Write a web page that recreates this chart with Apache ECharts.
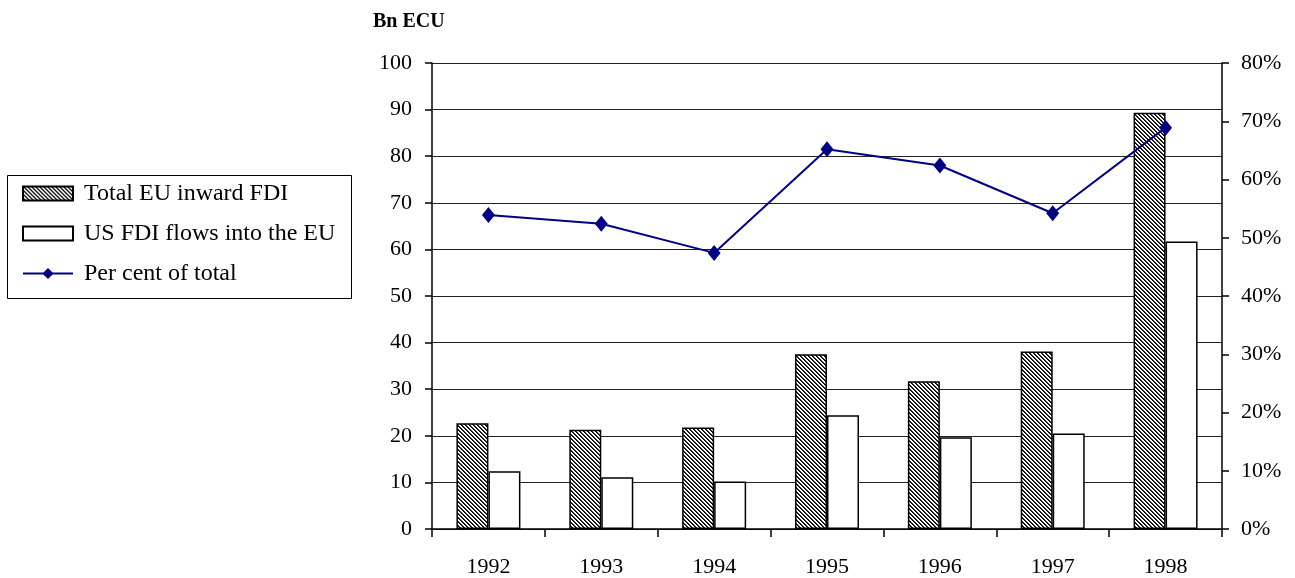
<!DOCTYPE html>
<html>
<head>
<meta charset="utf-8">
<script src="https://cdn.jsdelivr.net/npm/echarts@6/dist/echarts.min.js"></script>
<style>
html,body{margin:0;padding:0;background:#fff;}
#chart{width:1295px;height:578px;}
</style>
</head>
<body>
<div id="chart"></div>
<script>
const categories = ['1992','1993','1994','1995','1996','1997','1998'];
const totalEU = [22.7, 21.3, 21.8, 37.5, 31.7, 38.1, 89.3];
const usFDI = [12.4, 11.1, 10.2, 24.4, 19.7, 20.5, 61.7];
const perCent = [53.9, 52.4, 47.4, 65.2, 62.4, 54.2, 68.9];
const leftTicks = {min: 0, max: 100, interval: 10};
const rightTicks = {min: 0, max: 80, interval: 10};

const FONT = "'Liberation Serif','Times New Roman',serif";

function makeHatch() {
  const c = document.createElement('canvas');
  c.width = 4; c.height = 4;
  const ctx = c.getContext('2d');
  ctx.fillStyle = '#fff';
  ctx.fillRect(0, 0, 4, 4);
  for (let i = 0; i < 4; i++) {
    ctx.fillStyle = '#000';
    ctx.fillRect(i, i, 1, 1);
    ctx.fillStyle = 'rgba(0,0,0,0.8)';
    ctx.fillRect((i + 1) % 4, i, 1, 1);
  }
  return c;
}
const hatch = {image: makeHatch(), repeat: 'repeat'};

const chart = echarts.init(document.getElementById('chart'), null, {renderer: 'canvas'});
chart.setOption({
  animation: false,
  backgroundColor: '#fff',
  textStyle: {fontFamily: FONT, color: '#000'},
  grid: {left: 432, right: 73, top: 63, bottom: 49, containLabel: false},
  graphic: [
    {type: 'rect', left: 5, top: 173, shape: {width: 344, height: 123},
     style: {fill: 'none', stroke: '#000', lineWidth: 1}},
    {type: 'text', left: 373, top: 12,
     style: {text: 'Bn ECU', font: "bold 20px 'Liberation Serif', serif", fill: '#000'}}
  ],
  legend: {
    orient: 'vertical', left: 22, top: 181, padding: 0,
    itemWidth: 50, itemHeight: 14, itemGap: 15,
    textStyle: {fontFamily: FONT, fontSize: 24, color: '#000', lineHeight: 25, padding: [0,0,0,6]},
    data: [
      {name: 'Total EU inward FDI', icon: 'rect'},
      {name: 'US FDI flows into the EU', icon: 'rect'},
      {name: 'Per cent of total'}
    ]
  },
  xAxis: {
    type: 'category', data: categories,
    axisLine: {lineStyle: {color: '#000', width: 1.5}},
    axisTick: {show: true, length: 8, lineStyle: {color: '#000', width: 1.5}},
    axisLabel: {fontFamily: FONT, fontSize: 22, color: '#000', margin: 27}
  },
  yAxis: [
    {
      type: 'value', min: leftTicks.min, max: leftTicks.max, interval: leftTicks.interval,
      axisLine: {show: true, lineStyle: {color: '#000', width: 1.5}},
      axisTick: {show: true, length: 7, lineStyle: {color: '#000', width: 1.5}},
      axisLabel: {fontFamily: FONT, fontSize: 22, color: '#000', margin: 20},
      splitLine: {show: true, lineStyle: {color: '#222', width: 1}}
    },
    {
      type: 'value', min: rightTicks.min, max: rightTicks.max, interval: rightTicks.interval,
      position: 'right',
      axisLine: {show: true, lineStyle: {color: '#000', width: 1.5}},
      axisTick: {show: true, length: 7, lineStyle: {color: '#000', width: 1.5}},
      axisLabel: {fontFamily: FONT, fontSize: 22, color: '#000', margin: 19, formatter: '{value}%'},
      splitLine: {show: false}
    }
  ],
  series: [
    {
      name: 'Total EU inward FDI', type: 'bar', data: totalEU, yAxisIndex: 0,
      barWidth: 32, barGap: '0%',
      itemStyle: {color: hatch, borderColor: '#000', borderWidth: 1.5}
    },
    {
      name: 'US FDI flows into the EU', type: 'bar', data: usFDI, yAxisIndex: 0,
      barWidth: 32, barGap: '0%',
      itemStyle: {color: '#fff', borderColor: '#000', borderWidth: 1.5}
    },
    {
      name: 'Per cent of total', type: 'line', data: perCent, yAxisIndex: 1,
      symbol: 'diamond', symbolSize: [13, 16],
      lineStyle: {color: '#000080', width: 2},
      itemStyle: {color: '#000080'},
      z: 5
    }
  ]
});
</script>
</body>
</html>
